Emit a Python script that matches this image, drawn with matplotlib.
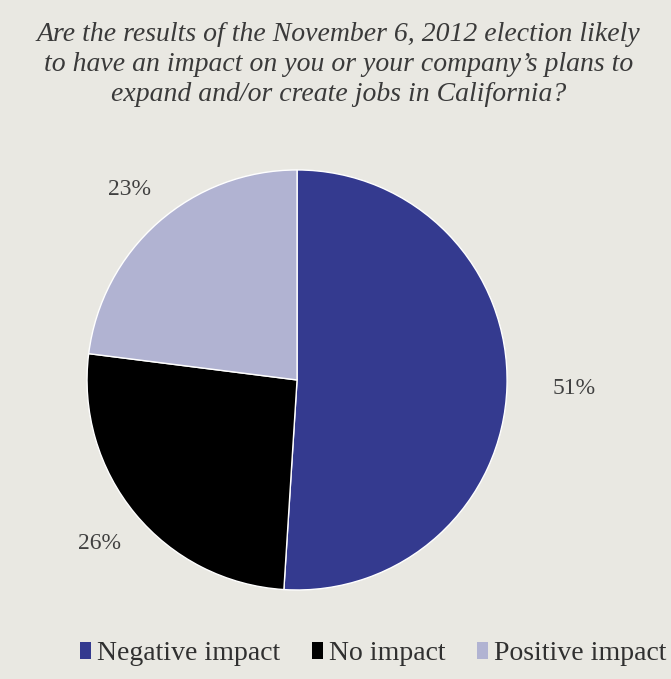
import numpy as np
import matplotlib.pyplot as plt
from matplotlib.patches import Patch

categories = ['Negative impact', 'No impact', 'Positive impact']
values = [51, 26, 23]
colors = ['#343a8f', '#000000', '#b1b3d2']
title = ("Are the results of the November 6, 2012 election likely\n"
         "to have an impact on you or your company\u2019s plans to\n"
         "expand and/or create jobs in California?")

bg = '#e9e8e2'
fig = plt.figure(figsize=(6.71, 6.79), dpi=100, facecolor=bg)

fig.text(0.505, 0.968, title, ha='center', va='top', family='Liberation Serif',
         style='italic', fontsize=20, color='#3a3a3a', linespacing=1.27)

ax = fig.add_axes([0.1297, 0.1311, 0.626, 0.6186])
ax.set_facecolor(bg)
wedges, _ = ax.pie(values, colors=colors, startangle=90, counterclock=False,
                   wedgeprops=dict(edgecolor='white', linewidth=1))
ax.set_xlim(-1, 1)
ax.set_ylim(-1, 1)
ax.set_aspect('equal')

# percentage labels outside the pie
label_r = [1.32, 1.22, 1.21]
for w, v, r in zip(wedges, values, label_r):
    ang = np.deg2rad((w.theta1 + w.theta2) / 2)
    ax.text(r * np.cos(ang), r * np.sin(ang), f'{v}%', ha='center', va='center',
            family='Liberation Serif', fontsize=17, color='#404040', clip_on=False)

handles = [Patch(facecolor=c, edgecolor='none') for c in colors]
fig.legend(handles, categories, loc='center', bbox_to_anchor=(0.556, 0.037), ncol=3,
           frameon=False, handlelength=0.4, handleheight=0.55, handletextpad=0.2,
           columnspacing=1.15, prop=dict(family='Liberation Serif', size=20),
           labelcolor='#303030')

fig.savefig('out.png', dpi=100, facecolor=bg)
